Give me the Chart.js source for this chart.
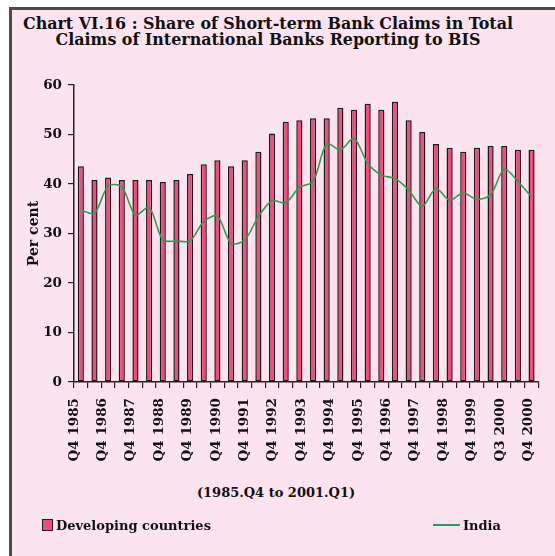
<!DOCTYPE html>
<html>
<head>
<meta charset="utf-8">
<script src="https://cdn.jsdelivr.net/npm/chart.js@4"></script>
<style>
    body { margin: 0; background: #fff; }
    #page { position: relative; width: 555px; height: 556px; overflow: hidden; }
    #frame {
        position: absolute; left: 9px; top: 7px; width: 560px; height: 560px;
        border-left: 3px solid #4d4d4d; border-top: 3px solid #4d4d4d;
        background: #fbe3ef;
    }
    .txt { position: absolute; font-family: "DejaVu Serif", serif; font-weight: bold; color: #111; }
    #title { left: 9px; width: 518px; top: 16px; text-align: center; font-size: 15.9px; line-height: 16px; }
    #range { left: 176px; width: 200px; top: 485px; text-align: center; font-size: 13px; line-height: 16px; }
    #chart { position: absolute; left: 0; top: 0; }
    .legend-item { position: absolute; top: 517px; height: 16px; display: flex; align-items: center; font-family: "DejaVu Serif", serif; font-weight: bold; font-size: 13px; color: #111; }
</style>
</head>
<body>
<div id="page">
    <div id="frame"></div>
    <div id="title" class="txt">Chart VI.16 : Share of Short-term Bank Claims in Total<br>Claims of International Banks Reporting to BIS</div>
    <div id="range" class="txt">(1985.Q4 to 2001.Q1)</div>
    <canvas id="chart" width="555" height="556"></canvas>
    <div id="legend"></div>
</div>
<script>
// one bar per observation, 1985.Q4 to 2001.Q1
const periods = ['Q4 1985', 'Q2 1986', 'Q4 1986', 'Q2 1987', 'Q4 1987', 'Q2 1988', 'Q4 1988', 'Q2 1989',
    'Q4 1989', 'Q2 1990', 'Q4 1990', 'Q2 1991', 'Q4 1991', 'Q2 1992', 'Q4 1992', 'Q2 1993', 'Q4 1993',
    'Q2 1994', 'Q4 1994', 'Q2 1995', 'Q4 1995', 'Q2 1996', 'Q4 1996', 'Q2 1997', 'Q4 1997', 'Q2 1998',
    'Q4 1998', 'Q2 1999', 'Q4 1999', 'Q1 2000', 'Q2 2000', 'Q3 2000', 'Q4 2000', 'Q1 2001'];

// labels printed under the axis
const axisLabels = ['Q4 1985', 'Q4 1986', 'Q4 1987', 'Q4 1988', 'Q4 1989', 'Q4 1990', 'Q4 1991', 'Q4 1992',
    'Q4 1993', 'Q4 1994', 'Q4 1995', 'Q4 1996', 'Q4 1997', 'Q4 1998', 'Q4 1999', 'Q3 2000', 'Q4 2000'];

const developing = [43.6, 40.8, 41.3, 40.8, 40.8, 40.8, 40.4, 40.8, 42.0, 44.0, 44.8, 43.6, 44.8, 46.5,
    50.2, 52.6, 52.9, 53.3, 53.3, 55.4, 55.0, 56.2, 55.0, 56.6, 52.9, 50.5, 48.1, 47.3, 46.5, 47.3,
    47.7, 47.7, 46.9, 46.9];

const india = [34.7, 34.1, 39.6, 39.4, 33.7, 35.3, 28.7, 28.5, 28.5, 32.4, 33.5, 28.0, 28.7, 33.4,
    36.6, 36.2, 39.3, 40.5, 48.1, 46.9, 49.2, 44.2, 41.8, 41.1, 38.8, 35.5, 39.1, 36.7, 38.2, 36.9,
    37.8, 43.0, 40.5, 37.4];

const yTicks = [0, 10, 20, 30, 40, 50, 60];

const barColor = '#f24a7b';
const lineColor = '#2f9e55';
const font = { family: 'DejaVu Serif', weight: 'bold', size: 13.5 };

let ctx = document.getElementById('chart').getContext('2d');

let chart = new Chart(ctx, {
    type: 'bar',
    data: {
        labels: periods,
        datasets: [{
            type: 'line',
            label: 'India',
            data: india,
            borderColor: lineColor,
            borderWidth: 1.6,
            pointRadius: 0,
            tension: 0.3,
            order: 0
        }, {
            label: 'Developing countries',
            data: developing,
            backgroundColor: barColor,
            borderColor: '#1a1a1a',
            borderWidth: 1.5,
            borderSkipped: false,
            barPercentage: 0.45,
            categoryPercentage: 1,
            order: 1
        }]
    },
    options: {
        responsive: false,
        animation: false,
        layout: { padding: { top: 85, right: 10, bottom: 68, left: 0 } },
        plugins: {
            legend: { display: false },
            tooltip: { enabled: false }
        },
        scales: {
            x: {
                weight: 0,
                offset: true,
                grid: { drawOnChartArea: false, color: '#222', tickLength: 6, lineWidth: 1.2 },
                border: { color: '#222', width: 1.5 },
                ticks: { display: false },
                afterFit: function (scale) { scale.height = 6; }
            },
            x2: {
                type: 'linear',
                position: 'bottom',
                weight: 1,
                offset: false,
                min: 0,
                max: 16.35,
                grid: { display: false, drawTicks: false, offset: false },
                border: { display: false },
                ticks: {
                    stepSize: 1,
                    includeBounds: false,
                    autoSkip: false,
                    minRotation: 90,
                    maxRotation: 90,
                    padding: 10,
                    color: '#111',
                    font: font,
                    callback: function (value) {
                        return axisLabels[value] !== undefined ? axisLabels[value] : '';
                    }
                },
                afterFit: function (scale) { scale.height = 100; }
            },
            y: {
                min: 0,
                max: 60,
                afterBuildTicks: function (scale) {
                    scale.ticks = yTicks.map(v => ({ value: v }));
                },
                grid: { drawOnChartArea: false, color: '#222', tickLength: 6, lineWidth: 1.2 },
                border: { color: '#222', width: 1.5 },
                ticks: { padding: 6, color: '#111', font: font },
                title: {
                    display: true,
                    text: 'Per cent',
                    color: '#111',
                    font: { family: 'DejaVu Serif', weight: 'bold', size: 14 },
                    padding: { top: 26, bottom: 0 }
                },
                afterFit: function (scale) { scale.width = 74; }
            }
        }
    }
});

// legend drawn beside the canvas, one key on each side
let legend = document.getElementById('legend');
chart.data.datasets.forEach(function (ds) {
    let item = document.createElement('div');
    item.className = 'legend-item';
    let key = document.createElement('span');
    if (ds.type === 'line') {
        item.style.left = '433px';
        key.style.cssText = 'display:inline-block;width:27px;height:0;border-top:2px solid ' + ds.borderColor + ';margin-right:3px';
    } else {
        item.style.left = '42px';
        key.style.cssText = 'display:inline-block;width:9px;height:10px;background:' + ds.backgroundColor + ';border:1px solid #222;margin-right:3px';
    }
    item.appendChild(key);
    item.appendChild(document.createTextNode(ds.label));
    legend.appendChild(item);
});
</script>
</body>
</html>
